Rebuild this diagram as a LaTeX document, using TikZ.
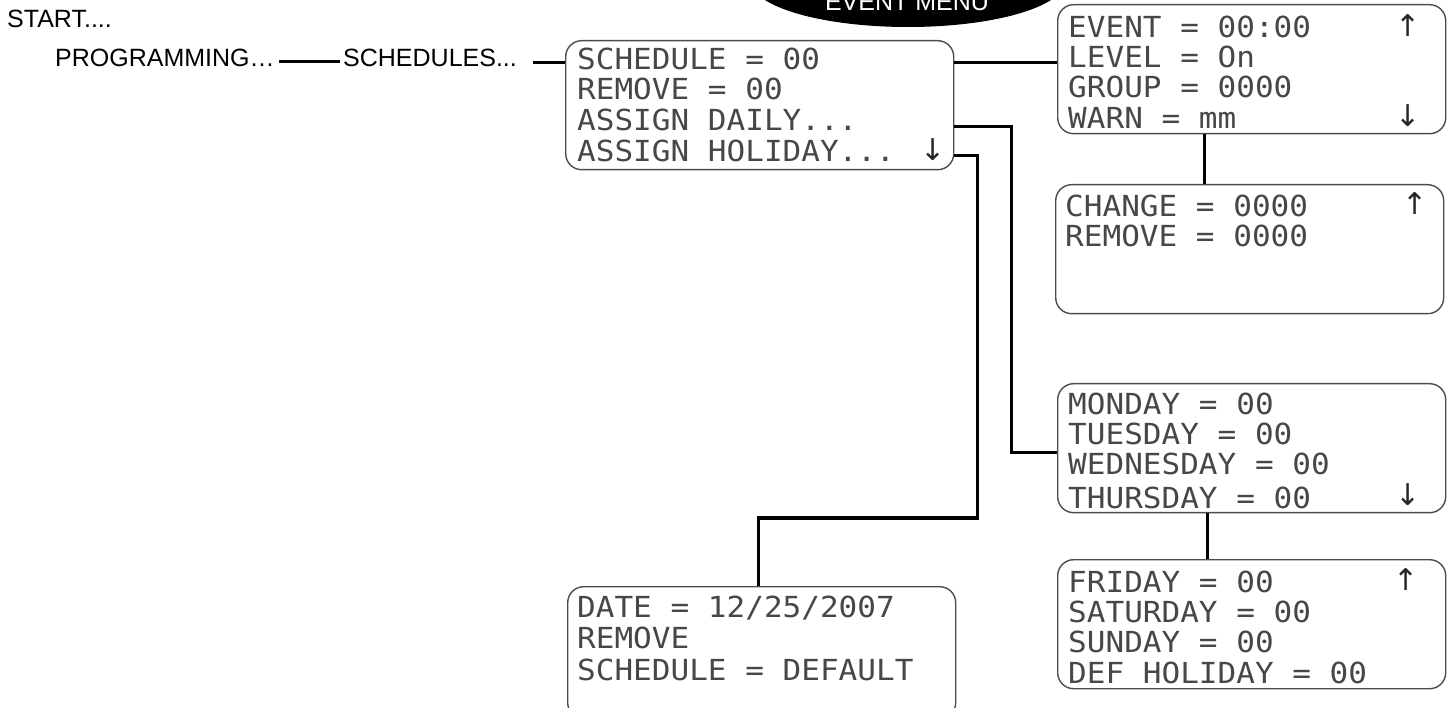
\documentclass[tikz,border=0pt]{standalone}
\usepackage{fontspec}
\setmainfont{Liberation Sans}
\newfontfamily\lcdfont[FakeStretch=1.07]{DejaVu Sans Mono}
\newfontfamily\arrfont{DejaVu Sans}
\usetikzlibrary{shapes.geometric}
\tikzset{
  lcdbox/.style={draw=black!70, line width=1.4pt, rounded corners=16pt,
    minimum width=388pt, minimum height=129pt, inner sep=0pt, anchor=north west},
  lcdtxt/.style={anchor=base west, inner sep=0pt, text=black!72,
    font=\lcdfont\fontsize{29}{30}\selectfont},
  lbl/.style={anchor=base west, inner sep=0pt, font=\fontsize{25}{26}\selectfont},
  arr/.style={anchor=base, inner sep=0pt, text=black!85,
    font=\arrfont\fontsize{30}{30}\selectfont},
  conn/.style={line width=3pt, black},
}
\begin{document}
\begin{tikzpicture}[x=1pt, y=-1pt]
\useasboundingbox (0,0) rectangle (1452,708);

% header ellipse
\node[ellipse, fill=black, minimum width=314pt, minimum height=92pt, inner sep=0pt] (menu) at (908,-19) {};
\node[anchor=base, inner sep=0pt, text=white, font=\fontsize{25}{26}\selectfont] (menutxt) at (907,11) {EVENT MENU};

% left labels
\node[lbl] (start) at (7,28) {START....};
\node[lbl] (prog) at (55,67) {PROGRAMMING…};
\node[lbl] (sched) at (343,67) {SCHEDULES...};

% LCD boxes
\node[lcdbox] (b1) at (565,40) {};
\node[lcdbox] (bE) at (1057,4) {};
\node[lcdbox] (bC) at (1055,184) {};
\node[lcdbox] (bM) at (1057,383) {};
\node[lcdbox] (bF) at (1057,559) {};
\node[lcdbox, minimum height=132pt] (bD) at (567,586) {};

% box 1 text
\node[lcdtxt] (t11) at (577,70) {SCHEDULE = 00};
\node[lcdtxt] (t12) at (577,100) {REMOVE = 00};
\node[lcdtxt] (t13) at (577,131) {ASSIGN DAILY...};
\node[lcdtxt] (t14) at (577,162) {ASSIGN HOLIDAY...};
\node[arr] (a1) at (933,161) {↓};

% event box
\node[lcdtxt] (te1) at (1068,38) {EVENT = 00:00};
\node[lcdtxt] (te2) at (1068,68) {LEVEL = On};
\node[lcdtxt] (te3) at (1068,98) {GROUP = 0000};
\node[lcdtxt] (te4) at (1068,129) {WARN = mm};
\node[arr] (ae1) at (1408,37) {↑};
\node[arr] (ae2) at (1408,127) {↓};

% change box
\node[lcdtxt] (tc1) at (1065,217) {CHANGE = 0000};
\node[lcdtxt] (tc2) at (1065,247) {REMOVE = 0000};
\node[arr] (ac1) at (1415,215) {↑};

% monday box
\node[lcdtxt] (tm1) at (1068,415) {MONDAY = 00};
\node[lcdtxt] (tm2) at (1068,445) {TUESDAY = 00};
\node[lcdtxt] (tm3) at (1068,475) {WEDNESDAY = 00};
\node[lcdtxt] (tm4) at (1068,508) {THURSDAY = 00};
\node[arr] (am1) at (1408,506) {↓};

% friday box
\node[lcdtxt] (tf1) at (1068,592) {FRIDAY = 00};
\node[lcdtxt] (tf2) at (1068,622) {SATURDAY = 00};
\node[lcdtxt] (tf3) at (1068,652) {SUNDAY = 00};
\node[lcdtxt] (tf4) at (1068,683) {DEF HOLIDAY = 00};
\node[arr] (af1) at (1406,590) {↑};

% date box
\node[lcdtxt] (td1) at (577,617) {DATE = 12/25/2007};
\node[lcdtxt] (td2) at (577,648) {REMOVE};
\node[lcdtxt] (td3) at (577,680) {SCHEDULE = DEFAULT};

% connector levels
\coordinate (y1) at (0,62);
\coordinate (y2) at (0,63);
\coordinate (y3) at (0,127);
\coordinate (y4) at (0,156);
\coordinate (xd) at (1011,0);
\coordinate (xh) at (977,0);
\coordinate (yh) at (0,518);
\coordinate (yw) at (0,453);
\coordinate (xe) at (1204,0);
\coordinate (xm) at (1207,0);
\coordinate (xdt) at (758,0);

% connectors
\draw[conn] ([xshift=4pt]prog.east |- y1) -- ([xshift=-3pt]sched.west |- y1);
\draw[conn] ([xshift=16pt]sched.east |- y2) -- (b1.west |- y2);
\draw[conn] (b1.east |- y2) -- (bE.west |- y2);
\draw[conn] (b1.east |- y3) -- (xd |- y3) -- (xd |- yw) -- (bM.west |- yw);
\draw[conn] (b1.east |- y4) -- (xh |- y4) -- (xh |- yh) -- (xdt |- yh) -- (xdt |- bD.north);
\draw[conn] (xe |- bE.south) -- (xe |- bC.north);
\draw[conn] (xm |- bM.south) -- (xm |- bF.north);
\end{tikzpicture}
\end{document}
